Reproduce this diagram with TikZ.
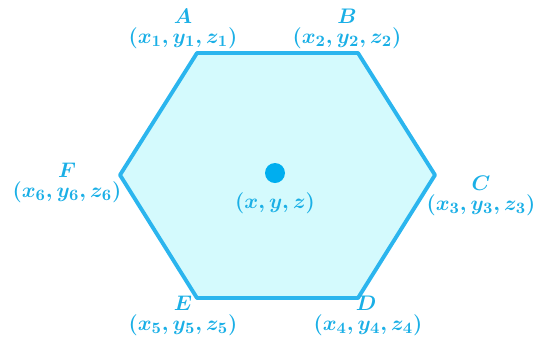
\documentclass[tikz,border=0pt]{standalone}
\usepackage{amsmath,amssymb}
\usepackage{tikz}
\usepackage{xcolor}
\definecolor{hexline}{HTML}{2BB5EE}
\definecolor{hexfill}{HTML}{D4FAFD}
\definecolor{hextext}{HTML}{1AAFE6}
\definecolor{hexdot}{HTML}{00AEEF}
\tikzset{lab/.style={text=hextext,font=\fontsize{13}{15}\selectfont\boldmath,inner sep=0pt}}

\begin{document}
\begin{tikzpicture}[x=0.02cm,y=-0.02cm]
\useasboundingbox (0,0) rectangle (542,343);
\coordinate (A) at (197,53);
\coordinate (B) at (358,53);
\coordinate (C) at (435,175);
\coordinate (D) at (358,298);
\coordinate (E) at (197,298);
\coordinate (F) at (120,175);
\draw[hexline,fill=hexfill,line width=2.2pt,line join=round] (A) -- (B) -- (C) -- (D) -- (E) -- (F) -- cycle;
\fill[hexdot] (275,173) circle (10);
\node[lab] (nA) at (183,16) {$A$};
\node[lab] (cA) at (183,38) {$(x_1,y_1,z_1)$};
\node[lab] (nB) at (347,16) {$B$};
\node[lab] (cB) at (347,38) {$(x_2,y_2,z_2)$};
\node[lab] (nC) at (481,183) {$C$};
\node[lab] (cC) at (481,205) {$(x_3,y_3,z_3)$};
\node[lab] (nD) at (366,303) {$D$};
\node[lab] (cD) at (368,325) {$(x_4,y_4,z_4)$};
\node[lab] (nE) at (183,303) {$E$};
\node[lab] (cE) at (183,325) {$(x_5,y_5,z_5)$};
\node[lab] (nF) at (67,170) {$F$};
\node[lab] (cF) at (67,192) {$(x_6,y_6,z_6)$};
\node[lab] (cO) at (275,203) {$(x,y,z)$};
\end{tikzpicture}
\end{document}
